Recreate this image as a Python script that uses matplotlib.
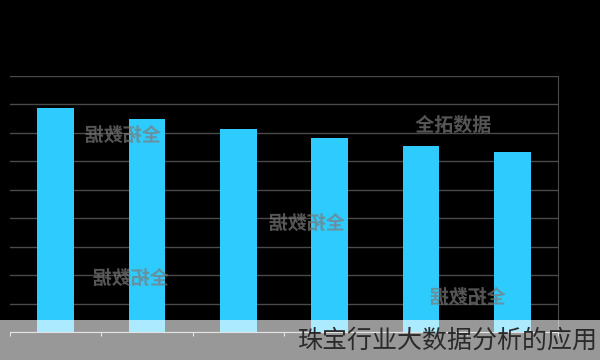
import matplotlib
matplotlib.use("Agg")
import matplotlib.pyplot as plt
from matplotlib.textpath import TextPath
from matplotlib.patches import PathPatch, Rectangle
from matplotlib.font_manager import FontProperties
from matplotlib.transforms import Affine2D

categories = ["A", "B", "C", "D", "E", "F"]
values = [78.8, 74.9, 71.4, 68.2, 65.4, 63.3]
title_text = "珠宝行业大数据分析的应用"
watermark = "全拓数据"

fig = plt.figure(figsize=(6, 3.6), dpi=100)
fig.patch.set_facecolor("black")
ax = fig.add_axes([10/600, 1 - 332/360, 548/600, 256/360])
ax.set_facecolor("black")

x = list(range(len(categories)))
ax.bar(x, values, width=0.4, color="#2ecbff", zorder=3)
ax.set_xlim(-0.5, len(categories) - 0.5)
ax.set_ylim(0, 90)
ax.set_yticks(range(0, 91, 10))
ax.yaxis.grid(True, color="#4a4a4a", linewidth=1)
ax.set_axisbelow(True)
ax.tick_params(left=False, labelleft=False, labelbottom=False)
ax.set_xticks([i - 0.5 for i in range(len(categories) + 1)])
ax.tick_params(axis="x", color="#bbbbbb", length=3, direction="out")
for s in ["top", "left"]:
    ax.spines[s].set_visible(False)
ax.spines["right"].set_color("#4a4a4a")
ax.spines["bottom"].set_color("#bbbbbb")

# watermarks
fp = FontProperties(family="Noto Sans CJK SC", weight="bold")
marks = [(123, 134, True), (453, 124, False), (307, 222, True), (131, 277, True), (468, 296, True)]
for px, py, mirror in marks:
    tp = TextPath((0, 0), watermark, size=19, prop=fp)
    bb = tp.get_extents()
    tr = Affine2D().translate(-(bb.x0 + bb.x1) / 2, -(bb.y0 + bb.y1) / 2)
    if mirror:
        tr = tr.scale(-1, 1)
    tr = tr.translate(px, 360 - py)
    patch = PathPatch(tr.transform_path(tp), facecolor="#7a7a7a", edgecolor="none",
                      alpha=0.7, transform=None, zorder=5)
    fig.patches.append(patch)

# bottom translucent strip
fig.patches.append(Rectangle((0, 0), 1, 40/360, transform=fig.transFigure,
                             facecolor="white", alpha=0.6, edgecolor="none", zorder=10))
fig.text(598/600, 19/360, title_text, ha="right", va="center", fontsize=18,
         color="#2a2a2a", family=["Noto Sans CJK SC", "DejaVu Sans"], zorder=11)

fig.savefig("out.png", dpi=100, facecolor=fig.get_facecolor())
